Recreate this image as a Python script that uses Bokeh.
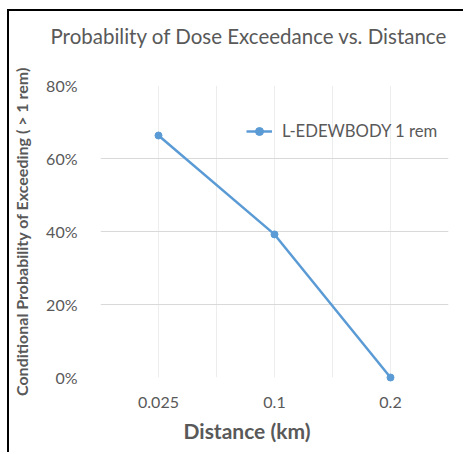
from bokeh.plotting import figure
from bokeh.models import (ColumnDataSource, FixedTicker, NumeralTickFormatter, Title,
                          Legend, LegendItem, Range1d)
from bokeh.embed import file_html
from bokeh.resources import INLINE

# ---- data ----
categories = ["0.025", "0.1", "0.2"]
probability = [0.663, 0.392, 0.0]
series_name = "L-EDEWBODY 1 rem"
chart_title = "Probability of Dose Exceedance vs. Distance"
x_label = "Distance (km)"
y_label = "Conditional Probability of Exceeding ( > 1 rem)"
y_ticks = [0.0, 0.2, 0.4, 0.6, 0.8]

x_pos = [i + 0.5 for i in range(len(categories))]
src = ColumnDataSource(dict(x=x_pos, y=probability))

FONT = "Lato"
GRAY = "#595959"
BLUE = "#5B9BD5"

p = figure(width=456, height=443, output_backend="svg", toolbar_location=None,
           x_range=Range1d(0, len(categories)), y_range=Range1d(0, 0.8),
           min_border_left=91, min_border_right=17, min_border_top=74, min_border_bottom=77)
p.title = None
p.styles = {"border-left": "2px solid black", "border-top": "2px solid black",
            "margin-left": "7px", "margin-top": "9px"}
p.outline_line_color = None
p.background_fill_color = "white"
p.border_fill_color = "white"

# spacer between frame and title, then the title itself (further out)
spacer = Title(text=" ", text_font=FONT, text_font_size="10px", standoff=22)
p.add_layout(spacer, "above")
main_title = Title(text=chart_title, align="left", offset=-50, standoff=4,
                   text_font=FONT, text_font_size="20.5px", text_font_style="normal",
                   text_color=GRAY)
p.add_layout(main_title, "above")

# x axis
p.xaxis.ticker = FixedTicker(ticks=x_pos)
p.xaxis.major_label_overrides = {x: c for x, c in zip(x_pos, categories)}
p.xaxis.axis_line_color = None
p.xaxis.major_tick_line_color = None
p.xaxis.minor_tick_line_color = None
p.xaxis.major_label_text_font = FONT
p.xaxis.major_label_text_font_size = "16px"
p.xaxis.major_label_text_color = GRAY
p.xaxis.major_label_standoff = 13

xt = Title(text=x_label, align="left", offset=83, text_font=FONT,
           text_font_size="21px", text_font_style="bold", text_color=GRAY)
p.add_layout(xt, "below")

# y axis
p.yaxis.ticker = FixedTicker(ticks=y_ticks)
p.yaxis.formatter = NumeralTickFormatter(format="0%")
p.yaxis.axis_line_color = None
p.yaxis.major_tick_line_color = None
p.yaxis.minor_tick_line_color = None
p.yaxis.major_label_text_font = FONT
p.yaxis.major_label_text_font_size = "16px"
p.yaxis.major_label_text_color = GRAY
p.yaxis.major_label_standoff = 17
p.yaxis.axis_label = y_label
p.yaxis.axis_label_text_font = FONT
p.yaxis.axis_label_text_font_size = "16px"
p.yaxis.axis_label_text_font_style = "bold"
p.yaxis.axis_label_text_color = GRAY
p.yaxis.axis_label_standoff = 12

# grids
p.ygrid.ticker = FixedTicker(ticks=y_ticks)
p.ygrid.grid_line_color = "#D9D9D9"
p.ygrid.grid_line_width = 1
p.xgrid.ticker = FixedTicker(ticks=[i * 0.5 for i in range(2 * len(categories) + 1)])
p.xgrid.grid_line_color = "#EDEDED"
p.xgrid.grid_line_width = 1

# series
r_line = p.line("x", "y", source=src, line_color=BLUE, line_width=2.5)
r_pts = p.scatter("x", "y", source=src, size=7, fill_color=BLUE, line_color=BLUE)
r_line.level = "overlay"
r_pts.level = "overlay"

legend = Legend(items=[LegendItem(label=series_name, renderers=[r_line, r_pts])],
                location=(146, 236), border_line_color=None, background_fill_alpha=0,
                label_text_font=FONT, label_text_font_size="16.7px", label_text_color=GRAY,
                glyph_width=26, glyph_height=20, padding=0, margin=0, label_standoff=10)
p.add_layout(legend)

open("out.html", "w").write(file_html(p, INLINE))
